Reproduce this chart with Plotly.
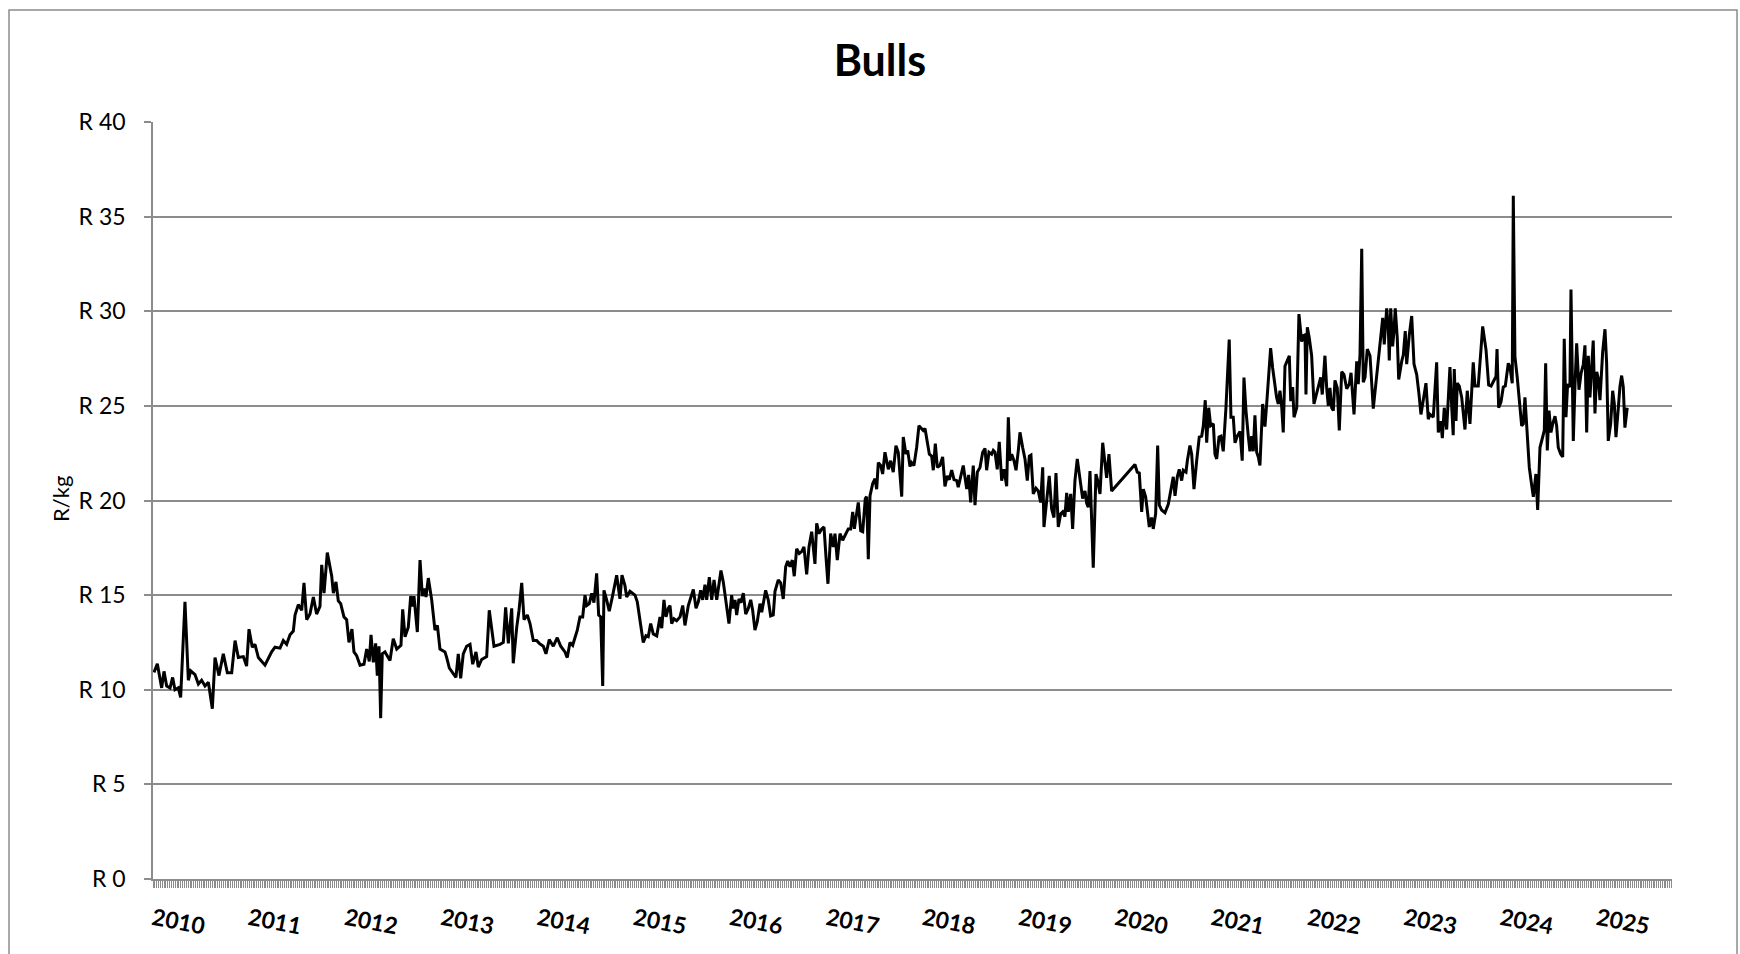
import plotly.graph_objects as go

# Weekly bull price (R/kg); x = years since 1 Jan 2010
years_since_2010 = [
    0.010, 0.045, 0.090, 0.114, 0.142, 0.177, 0.204, 0.228, 0.263, 0.287, 0.332, 0.367, 0.391, 0.436, 0.471,
    0.505, 0.540, 0.575, 0.616, 0.644, 0.685, 0.730, 0.772, 0.817, 0.852, 0.886, 0.938, 0.972, 0.997, 1.031,
    1.059, 1.094, 1.163, 1.232, 1.267, 1.319, 1.353, 1.388, 1.423, 1.457, 1.475, 1.509, 1.544, 1.568, 1.596,
    1.630, 1.665, 1.699, 1.734, 1.752, 1.776, 1.810, 1.856, 1.873, 1.900, 1.924, 1.949, 1.983, 2.011, 2.035,
    2.066, 2.087, 2.115, 2.150, 2.191, 2.219, 2.246, 2.264, 2.288, 2.312, 2.329, 2.347, 2.364, 2.381, 2.409,
    2.461, 2.495, 2.531, 2.575, 2.593, 2.617, 2.651, 2.676, 2.697, 2.710, 2.745, 2.773, 2.797, 2.814, 2.835,
    2.859, 2.894, 2.928, 2.953, 2.980, 3.032, 3.050, 3.077, 3.118, 3.146, 3.170, 3.195, 3.222, 3.257, 3.292,
    3.320, 3.354, 3.378, 3.413, 3.465, 3.492, 3.541, 3.603, 3.638, 3.662, 3.690, 3.725, 3.741, 3.777, 3.801,
    3.829, 3.853, 3.887, 3.915, 3.949, 3.984, 4.011,
    4.053, 4.081, 4.115, 4.157, 4.198, 4.234, 4.278, 4.302, 4.330, 4.358, 4.382, 4.406, 4.434, 4.462, 4.486,
    4.504, 4.531, 4.556, 4.579, 4.607, 4.628, 4.649, 4.670, 4.683, 4.711, 4.738, 4.774, 4.815, 4.849, 4.870,
    4.901, 4.919, 4.953, 5.005, 5.029, 5.057, 5.091, 5.119, 5.143, 5.168, 5.195, 5.231, 5.265, 5.283, 5.306,
    5.327, 5.351, 5.369, 5.386, 5.410, 5.438, 5.473, 5.501, 5.524, 5.559, 5.611, 5.639, 5.663, 5.687, 5.708,
    5.732, 5.750, 5.777, 5.802, 5.826, 5.854, 5.870, 5.898, 5.922, 5.950, 5.981,
    6.009, 6.026, 6.044, 6.061, 6.085, 6.106, 6.130, 6.155, 6.182, 6.207, 6.227, 6.251, 6.275, 6.303, 6.321,
    6.345, 6.362, 6.389, 6.414, 6.441, 6.459, 6.493, 6.518, 6.545, 6.570, 6.591, 6.615, 6.639, 6.659, 6.684,
    6.711, 6.736, 6.760, 6.788, 6.812, 6.840, 6.857, 6.874, 6.892, 6.916, 6.944, 6.968, 6.989, 7.009, 7.037,
    7.064, 7.082, 7.106, 7.134, 7.162, 7.186, 7.220, 7.245, 7.266, 7.283, 7.300, 7.324, 7.349, 7.370, 7.397,
    7.411, 7.428, 7.446, 7.474, 7.498, 7.515, 7.532, 7.557, 7.577, 7.601, 7.619, 7.636, 7.660, 7.687, 7.715,
    7.739, 7.775, 7.791, 7.819, 7.837, 7.861, 7.878, 7.902, 7.930, 7.954,
    7.999, 8.017, 8.041, 8.062, 8.086, 8.103, 8.124, 8.145, 8.172, 8.200, 8.224, 8.248, 8.269, 8.294, 8.318,
    8.346, 8.362, 8.387, 8.414, 8.450, 8.470, 8.491, 8.518, 8.536, 8.560, 8.588, 8.616, 8.640, 8.657, 8.681,
    8.709, 8.726, 8.744, 8.767, 8.788, 8.813, 8.837, 8.865, 8.882, 8.899, 8.917, 8.941, 8.962, 8.986, 9.003,
    9.031, 9.055, 9.079, 9.100, 9.117, 9.141, 9.169, 9.193, 9.218, 9.239, 9.252, 9.280, 9.307, 9.332, 9.356,
    9.377, 9.401, 9.426, 9.447, 9.470, 9.488, 9.505, 9.530, 9.550, 9.574, 9.598, 9.626, 9.654, 9.678, 9.696,
    9.712, 9.730, 9.764, 9.792, 9.810, 9.834, 9.862,
    9.886, 9.903, 9.927, 9.955, 10.197, 10.221, 10.242, 10.267, 10.284, 10.308, 10.346, 10.370, 10.387, 10.412,
    10.433, 10.450, 10.474, 10.509, 10.543, 10.568, 10.595, 10.613, 10.637, 10.657, 10.682, 10.699, 10.727,
    10.741, 10.768, 10.786, 10.810, 10.838, 10.865, 10.890, 10.907, 10.927, 10.942, 10.963, 10.983, 11.011,
    11.028, 11.046, 11.070, 11.090, 11.114, 11.142, 11.160, 11.176, 11.194, 11.218, 11.236, 11.259, 11.288,
    11.311, 11.329, 11.350, 11.374, 11.391, 11.409, 11.426, 11.443, 11.461, 11.478, 11.495, 11.523, 11.547,
    11.565, 11.592, 11.606, 11.627, 11.651, 11.668, 11.685, 11.703, 11.721, 11.737, 11.755, 11.779, 11.800,
    11.815, 11.835, 11.849, 11.877, 11.900,
    11.928, 11.945, 11.963, 11.973, 11.987, 12.007, 12.032, 12.056, 12.084, 12.111, 12.126, 12.142, 12.170,
    12.188, 12.205, 12.222, 12.240, 12.257, 12.274, 12.298, 12.319, 12.344, 12.368, 12.396, 12.423, 12.441,
    12.472, 12.500, 12.516, 12.534, 12.552, 12.568, 12.586, 12.610, 12.638, 12.672, 12.700, 12.734, 12.770,
    12.786, 12.811, 12.828, 12.838, 12.853, 12.873, 12.887, 12.900, 12.921, 12.936, 12.967, 12.984, 13.004,
    13.019, 13.046, 13.071, 13.095, 13.123, 13.147, 13.167, 13.191, 13.219, 13.243, 13.261, 13.295, 13.330,
    13.347, 13.372, 13.389, 13.409, 13.434, 13.468, 13.486, 13.502, 13.513, 13.531, 13.544, 13.565, 13.590,
    13.606, 13.624, 13.648, 13.676, 13.710, 13.728, 13.762, 13.787, 13.808,
    13.843, 13.870, 13.895, 13.930, 13.946, 13.957, 13.974, 13.998, 14.022, 14.043, 14.074, 14.091, 14.115,
    14.126, 14.143, 14.167, 14.195, 14.213, 14.230, 14.247, 14.264, 14.292, 14.317, 14.334, 14.361, 14.379,
    14.403, 14.427, 14.448, 14.462, 14.479, 14.497, 14.517, 14.535, 14.559, 14.576, 14.593, 14.618, 14.639,
    14.655, 14.673, 14.690, 14.714, 14.725, 14.749, 14.766, 14.784, 14.808, 14.829, 14.853, 14.870, 14.888,
    14.905, 14.922, 14.939, 14.956, 14.974, 14.992, 15.009, 15.026, 15.054, 15.078, 15.095, 15.112, 15.137,
    15.158, 15.175, 15.192, 15.216, 15.233, 15.251, 15.268, 15.285, 15.309,
]

price_r_per_kg = [
    10.92, 11.37, 10.1, 10.97, 10.2, 10.1, 10.65, 10.0, 10.1, 9.6, 14.65, 10.5, 11.0, 10.8, 10.3,
    10.5, 10.2, 10.4, 9.0, 11.7, 10.75, 11.9, 10.9, 10.9, 12.6, 11.7, 11.75, 11.25, 13.2, 12.25,
    12.4, 11.7, 11.3, 12.0, 12.25, 12.2, 12.6, 12.4, 12.9, 13.1, 13.95, 14.5, 14.2, 15.65, 13.7,
    14.0, 14.9, 14.0, 14.4, 16.6, 15.1, 17.25, 16.0, 15.1, 15.7, 14.7, 14.55, 13.85, 13.7, 12.5,
    13.2, 12.0, 11.8, 11.3, 11.35, 12.15, 11.5, 12.9, 11.45, 12.45, 10.75, 12.3, 8.5, 11.9, 12.0,
    11.55, 12.7, 12.15, 12.35, 14.25, 12.8, 13.3, 14.95, 14.4, 14.95, 13.05, 16.85, 14.95, 15.35, 14.9,
    15.9, 14.75, 13.15, 13.4, 12.15, 12.0, 11.7, 11.15, 10.85, 10.65, 11.9, 10.6, 11.9, 12.3, 12.4,
    11.35, 12.0, 11.2, 11.6, 11.75, 14.2, 12.3, 12.4, 12.5, 14.35, 12.45, 14.3, 11.4, 13.3, 14.2,
    15.65, 13.7, 13.95, 13.5, 12.6, 12.6, 12.45,
    12.3, 11.9, 12.65, 12.3, 12.75, 12.3, 12.0, 11.7, 12.5, 12.35, 12.7, 13.15, 13.85, 13.85, 15.0,
    14.45, 14.55, 15.1, 14.6, 16.15, 13.95, 13.85, 10.2, 15.25, 14.75, 14.15, 15.0, 16.05, 14.8, 16.05,
    15.5, 14.9, 15.2, 15.0, 14.65, 13.65, 12.5, 12.85, 12.8, 13.5, 12.95, 12.85, 13.85, 13.25, 14.75,
    13.85, 14.3, 14.45, 13.5, 13.75, 13.65, 13.85, 14.45, 13.4, 14.45, 15.3, 14.3, 14.65, 15.25, 14.75,
    15.55, 14.75, 15.95, 14.75, 15.8, 14.75, 15.35, 16.3, 15.7, 14.55, 13.5,
    15.0, 14.3, 14.75, 13.95, 14.8, 14.6, 15.1, 14.0, 14.3, 14.75, 14.2, 13.15, 13.6, 14.55, 14.1,
    14.75, 15.25, 14.75, 13.9, 13.95, 15.2, 15.8, 15.65, 14.8, 16.5, 16.8, 16.5, 16.85, 16.0, 17.45,
    17.2, 17.3, 17.55, 16.1, 17.55, 18.35, 17.3, 16.65, 18.8, 18.25, 18.5, 18.6, 17.0, 15.6, 18.25,
    17.55, 18.25, 16.85, 18.25, 17.9, 18.15, 18.5, 18.5, 19.4, 18.5, 19.2, 19.9, 18.4, 18.35, 20.1,
    20.2, 16.9, 20.25, 20.9, 21.15, 20.6, 22.0, 21.85, 21.4, 22.55, 22.0, 21.65, 22.1, 21.5, 22.9,
    22.55, 20.2, 23.35, 22.45, 22.65, 21.8, 22.0, 21.85, 22.8, 23.95,
    23.7, 23.8, 23.05, 22.45, 22.35, 21.6, 23.0, 21.75, 21.85, 22.3, 20.75, 21.3, 21.1, 21.6, 21.1,
    21.05, 20.7, 21.2, 21.85, 20.6, 21.35, 19.9, 21.85, 19.75, 21.5, 21.75, 22.55, 22.75, 21.6, 22.55,
    22.45, 22.65, 22.55, 21.65, 23.1, 21.05, 21.65, 20.75, 24.4, 22.1, 22.45, 22.1, 21.6, 22.65, 23.6,
    22.8, 22.2, 21.05, 22.35, 22.4, 20.35, 20.65, 20.5, 19.9, 21.75, 18.6, 19.9, 21.3, 19.55, 19.1,
    21.45, 18.6, 19.3, 19.4, 19.15, 20.4, 19.4, 20.35, 18.5, 21.05, 22.2, 21.2, 20.1, 20.5, 19.85,
    19.65, 21.55, 16.45, 21.4, 21.05, 20.35, 23.05,
    21.9, 21.2, 22.45, 20.5, 21.9, 21.5, 21.45, 19.4, 20.6, 20.2, 18.6, 19.1, 18.5, 19.3,
    22.9, 19.75, 19.5, 19.35, 19.8, 20.45, 21.25, 20.25, 21.25, 21.65, 21.05, 21.6, 21.5,
    22.1, 22.9, 22.45, 20.6, 22.1, 23.35, 23.4, 23.95, 25.3, 23.05, 24.9, 23.95, 24.05,
    22.45, 22.2, 23.35, 23.4, 22.6, 24.9, 26.6, 28.5, 24.4, 24.4, 23.05, 23.4, 23.65,
    22.1, 26.5, 24.75, 23.4, 22.6, 23.4, 22.6, 24.5, 22.55, 22.3, 21.85, 25.1, 23.9,
    25.1, 27.0, 28.05, 27.0, 26.05, 25.45, 25.1, 25.8, 24.95, 23.6, 27.1, 27.45, 27.65,
    25.25, 26.0, 24.4, 24.9, 29.85,
    28.4, 28.7, 28.75, 25.6, 29.15, 28.6, 27.65, 25.1, 25.7, 26.15, 26.5, 25.6, 27.65,
    25.95, 25.0, 25.95, 24.9, 24.75, 26.35, 25.95, 23.7, 26.8, 26.65, 25.9, 26.15, 26.75,
    24.55, 27.35, 26.15, 27.7, 33.3, 26.25, 26.5, 28.0, 27.65, 24.85, 26.3, 28.05, 29.65,
    28.25, 30.15, 29.15, 27.4, 30.15, 28.15, 28.95, 30.15, 28.6, 26.4, 27.35, 27.7, 28.95,
    27.2, 28.75, 29.75, 27.2, 26.65, 25.6, 24.55, 25.3, 26.2, 24.3, 24.55, 24.4, 27.3,
    23.6, 24.2, 23.3, 24.9, 23.75, 27.05, 25.0, 23.45, 26.95, 24.2, 26.2, 26.05, 25.45,
    24.75, 23.75, 25.8, 24.05, 27.3, 26.05, 26.05, 28.05, 29.2,
    27.95, 26.1, 26.05, 26.35, 26.55, 28.0, 24.9, 25.2, 26.0, 26.05, 27.25, 27.05, 26.2,
    36.1, 27.6, 26.5, 25.1, 23.95, 24.05, 25.45, 24.05, 21.75, 20.8, 20.2, 21.4, 19.5,
    22.8, 23.25, 23.7, 27.25, 22.65, 24.75, 23.6, 24.05, 24.45, 23.95, 22.8, 22.45, 22.3,
    28.55, 24.4, 26.15, 26.0, 31.15, 23.15, 26.0, 28.3, 25.85, 26.7, 27.2, 28.2, 23.6,
    27.65, 25.45, 26.7, 28.45, 24.6, 26.8, 26.45, 25.3, 27.85, 29.05, 27.3, 23.15, 24.05,
    25.8, 25.1, 23.35, 24.85, 26.0, 26.6, 26.0, 23.85, 24.9,
]

year_tick_pos = list(range(0, 16))
year_tick_labels = [str(2010 + k) for k in year_tick_pos]
price_ticks = [0, 5, 10, 15, 20, 25, 30, 35, 40]
price_tick_labels = ["R " + str(v) for v in price_ticks]

FONT = "Lato, 'Open Sans', sans-serif"
GRID = "#8c8c8c"

fig = go.Figure()
fig.add_trace(go.Scatter(
    x=years_since_2010, y=price_r_per_kg, mode="lines",
    line=dict(color="#000000", width=3), showlegend=False, hoverinfo="x+y",
))

fig.update_layout(
    width=1740, height=954,
    margin=dict(l=153, r=68, t=122, b=75),
    paper_bgcolor="white", plot_bgcolor="white",
    font=dict(family=FONT, color="#000000"),
    title=dict(text="<b>Bulls</b>", x=0.5057, xanchor="center", xref="container",
               y=0.936, yanchor="middle", yref="container",
               font=dict(family=FONT, size=43, color="#000000")),
    showlegend=False,
)

fig.update_xaxes(
    automargin=False,
    range=[0, 15.774], showgrid=False, zeroline=False,
    showline=True, linecolor=GRID, linewidth=2,
    tickmode="array", tickvals=year_tick_pos, ticktext=year_tick_labels,
    ticks="", tickangle=11, ticklabelstandoff=16,
    tickfont=dict(family=FONT, size=23, color="#000000", weight="bold"),
    minor=dict(dtick=1 / 52, tick0=0, ticks="outside", ticklen=7, tickwidth=1.4,
               tickcolor=GRID, showgrid=False),
)

fig.update_yaxes(
    automargin=False,
    range=[0, 40], showgrid=True, gridcolor=GRID, gridwidth=1.6, zeroline=False,
    showline=True, linecolor=GRID, linewidth=1.6,
    tickmode="array", tickvals=price_ticks, ticktext=price_tick_labels,
    ticks="outside", ticklen=7, tickcolor=GRID, tickwidth=1.6,
    ticklabelstandoff=14,
    tickfont=dict(family=FONT, size=23, color="#000000"),
)

fig.add_annotation(
    text="R/kg", xref="paper", yref="paper", x=-0.0606, y=0.502,
    showarrow=False, textangle=-90, xanchor="center", yanchor="middle",
    font=dict(family=FONT, size=22, color="#000000"),
)

fig.add_shape(type="rect", xref="paper", yref="paper",
              x0=-0.0948, x1=1.0428, y0=-0.107, y1=1.148,
              line=dict(color=GRID, width=1.5), fillcolor="rgba(0,0,0,0)", layer="below")

fig.write_html(
    "out.html",
    config={"displayModeBar": False},
    post_script="document.body.style.margin='0';document.body.style.padding='0';"
                "document.documentElement.style.overflow='hidden';",
)
